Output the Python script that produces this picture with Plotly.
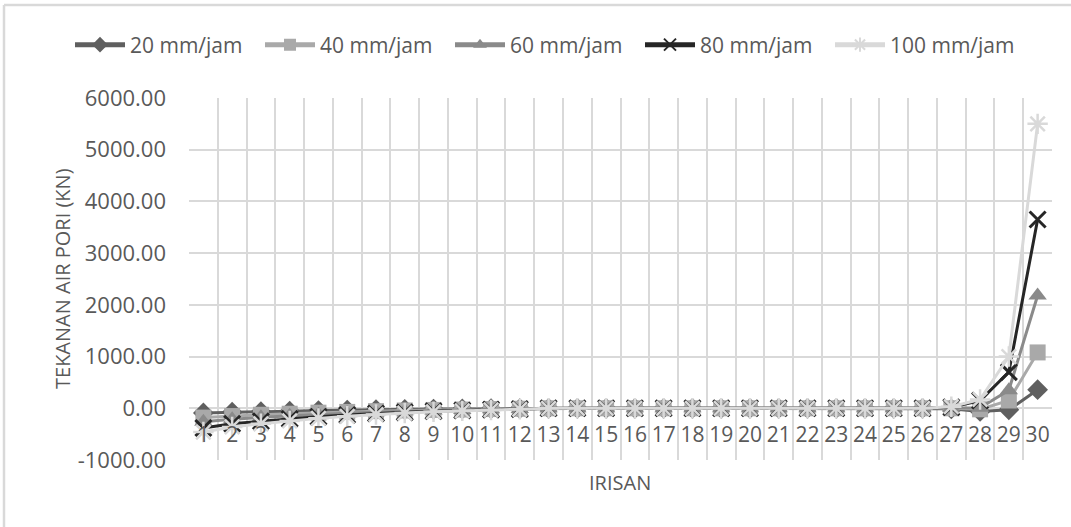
import plotly.graph_objects as go

# Irisan (slice) numbers along the x axis
irisan = list(range(1, 31))

# Pore water pressure (kN) per slice for each rainfall intensity
p20 = [-90, -75, -65, -55, -45, -35, -28, -22, -16, -12, -8, -5,
       0, 0, 0, 0, 0, 0, 0, 0, 0, 0, 0, 0, 0, 0, -10, -60, -30, 360]
p40 = [-180, -150, -125, -105, -85, -70, -55, -42, -32, -24, -15, -9,
       0, 0, 0, 0, 0, 0, 0, 0, 0, 0, 0, 0, 0, 0, 0, -20, 150, 1080]
p60 = [-260, -210, -175, -145, -120, -95, -75, -58, -44, -32, -20, -12,
       0, 0, 0, 0, 0, 0, 0, 0, 0, 0, 0, 0, 0, 0, 5, 10, 350, 2180]
p80 = [-380, -300, -250, -205, -165, -130, -100, -78, -58, -42, -27, -16,
       0, 0, 0, 0, 0, 0, 0, 0, 0, 0, 0, 0, 0, 0, 20, 150, 700, 3650]
p100 = [-460, -360, -300, -245, -195, -155, -120, -92, -68, -50, -32, -19,
        0, 0, 0, 0, 0, 0, 0, 0, 0, 0, 0, 0, 0, 0, 30, 170, 1000, 5500]

series = [
    ("20 mm/jam", p20, "#5f5f5f", "diamond", 16, 0),
    ("40 mm/jam", p40, "#a9a9a9", "square", 16, 0),
    ("60 mm/jam", p60, "#8a8a8a", "triangle-up", 16, 0),
    ("80 mm/jam", p80, "#262626", "x-thin-open", 16, 3),
    ("100 mm/jam", p100, "#d9d9d9", "asterisk-open", 17, 2.5),
]

FONT = "Open Sans"
TXT = "#595959"
GRID = "#d9d9d9"

fig = go.Figure()
for name, vals, col, sym, size, lw in series:
    marker = dict(symbol=sym, size=size, color=col)
    if lw:
        marker["line"] = dict(color=col, width=lw)
    fig.add_trace(go.Scatter(
        x=irisan, y=vals, name=name, mode="lines+markers",
        line=dict(color=col, width=3), marker=marker,
    ))

W, H = 1071, 527
L, R, T, B = 189, 19, 98, 67
pw, ph = W - L - R, H - T - B
ymin, ymax = -1000, 6000
zero_pos = (0 - ymin) / (ymax - ymin)

fig.update_layout(
    width=W, height=H,
    margin=dict(l=L, r=R, t=T, b=B),
    paper_bgcolor="white", plot_bgcolor="white",
    font=dict(family=FONT, color=TXT, size=21),
    showlegend=True,
    legend=dict(
        orientation="h", x=(70 - L) / pw, y=1 + (T - 45) / ph,
        xanchor="left", yanchor="middle",
        font=dict(size=21, color=TXT), itemwidth=50,
        entrywidth=125, itemsizing="constant",
        bgcolor="rgba(0,0,0,0)",
    ),
    xaxis=dict(
        range=[0.5, 30.5], tickmode="array", tickvals=irisan,
        ticktext=[str(i) for i in irisan],
        showgrid=False, zeroline=False, showline=False,
        anchor="free", position=zero_pos,
        ticks="", ticklabelstandoff=12,
        tickfont=dict(size=21, color=TXT),
        minor=dict(tickmode="array", tickvals=[i + 0.5 for i in range(0, 31)],
                   showgrid=True, gridcolor=GRID, gridwidth=1.5),
    ),
    yaxis=dict(
        range=[ymin, ymax], tickmode="array",
        tickvals=list(range(-1000, 6001, 1000)),
        ticktext=[f"{v:.2f}" for v in range(-1000, 6001, 1000)],
        showgrid=True, gridcolor=GRID, gridwidth=1.5,
        zeroline=True, zerolinecolor=GRID, zerolinewidth=1.5,
        showline=False, ticks="", ticklabelstandoff=22,
        tickfont=dict(size=22, color=TXT),
    ),
    annotations=[
        dict(text="TEKANAN AIR PORI (KN)", textangle=-90, showarrow=False,
             xref="paper", yref="paper", x=(62 - L) / pw, y=0.5,
             xanchor="center", yanchor="middle",
             font=dict(size=20, color=TXT, family=FONT)),
        dict(text="IRISAN", showarrow=False, xref="paper", yref="paper",
             x=(620 - L) / pw, y=-(482 - (T + ph)) / ph,
             xanchor="center", yanchor="middle",
             font=dict(size=20, color=TXT, family=FONT)),
    ],
    shapes=[
        # outer chart frame
        dict(type="line", xref="paper", yref="paper",
             x0=(4 - L) / pw, x1=(W + 5 - L) / pw,
             y0=1 + (T - 5) / ph, y1=1 + (T - 5) / ph,
             line=dict(color="#d9d9d9", width=2.5)),
        dict(type="line", xref="paper", yref="paper",
             x0=(4 - L) / pw, x1=(4 - L) / pw,
             y0=1 + (T - 5) / ph, y1=-(B + 5) / ph,
             line=dict(color="#d9d9d9", width=2.5)),
    ],
)

fig.write_html("out.html")
